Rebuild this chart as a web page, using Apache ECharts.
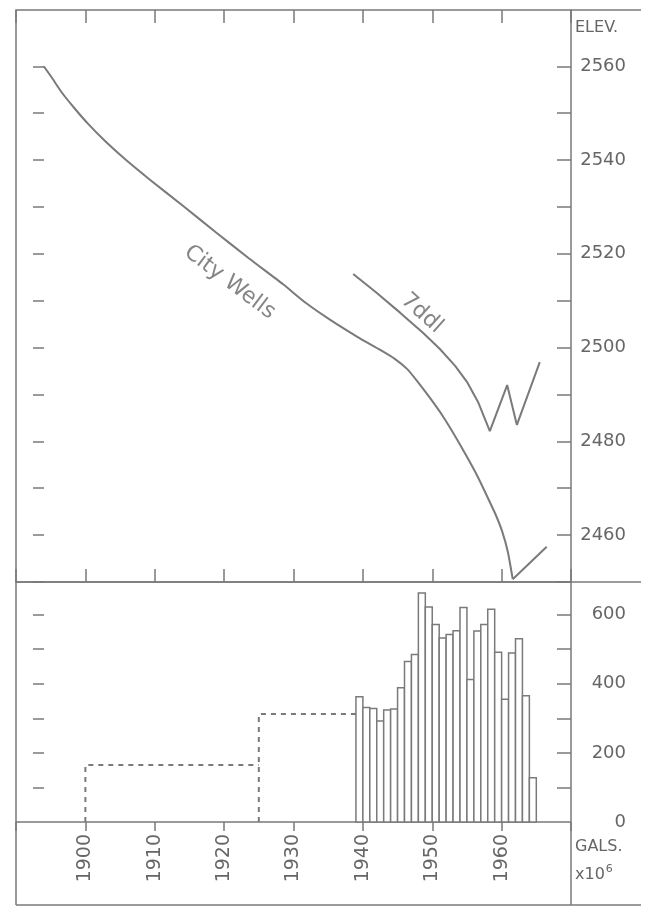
<!DOCTYPE html>
<html>
<head>
<meta charset="utf-8">
<script src="https://cdn.jsdelivr.net/npm/echarts@6/dist/echarts.min.js"></script>
<style>
  html, body { margin: 0; padding: 0; background: #fff; }
  #chart { width: 647px; height: 917px; }
</style>
</head>
<body>
<div id="chart"></div>
<script>
// axis ticks / labels
const yearTicks = [1900, 1910, 1920, 1930, 1940, 1950, 1960]
const elevTicks = [2450, 2460, 2470, 2480, 2490, 2500, 2510, 2520, 2530, 2540, 2550, 2560]
const elevLabels = [2460, 2480, 2500, 2520, 2540, 2560]
const galTicks = [100, 200, 300, 400, 500, 600]
const galLabels = [0, 200, 400, 600]

// water level, city wells
const cityWells = [
  [1894.0, 2560], [1895.2, 2557.5], [1896.6, 2554.4], [1898.4, 2551.1], [1900.4, 2547.7],
  [1902.8, 2544.1], [1905.7, 2540.2], [1909.3, 2535.8], [1914.1, 2530.2], [1918.8, 2524.6],
  [1923.6, 2519.0], [1928.5, 2513.5], [1931.8, 2509.5], [1935.3, 2505.9], [1939.2, 2502.3],
  [1942.5, 2499.5], [1944.6, 2497.6], [1946.4, 2495.4], [1947.8, 2492.9], [1949.7, 2489.2],
  [1951.6, 2485.2], [1953.3, 2481.1], [1955.0, 2476.7], [1956.5, 2472.6], [1957.9, 2468.3],
  [1959.1, 2464.5], [1960.1, 2460.7], [1960.9, 2456.4], [1961.6, 2450.6], [1966.5, 2457.5]
]
// water level, well 7ddl
const sevenDdl = [
  [1938.6, 2515.7], [1941.8, 2511.9], [1945.4, 2507.4], [1948.7, 2503.1], [1951.1, 2499.7],
  [1953.3, 2496.1], [1955.0, 2492.7], [1956.6, 2488.4], [1958.3, 2482.2], [1960.8, 2492.0],
  [1962.2, 2483.5], [1965.5, 2496.9]
]
const curveLabels = [
  { name: 'City Wells', value: [1920.8, 2513.9], angle: -37 },
  { name: '7ddl', value: [1948.5, 2507.3], angle: -42 }
]

// pumpage, gallons x 10^6
const pumpYears = [1939, 1940, 1941, 1942, 1943, 1944, 1945, 1946, 1947, 1948, 1949, 1950, 1951,
  1952, 1953, 1954, 1955, 1956, 1957, 1958, 1959, 1960, 1961, 1962, 1963, 1964]
const pumpGals = [362, 331, 328, 292, 324, 327, 388, 464, 484, 662, 622, 571, 532,
  542, 553, 620, 412, 552, 571, 615, 491, 355, 489, 530, 365, 128]
const earlyPumpA = [[1900, 0], [1900, 165], [1925, 165]]
const earlyPumpB = [[1925, 0], [1925, 312], [1939, 312]]

const ink = '#7a7a7a'
const txt = '#666'
const font = 'DejaVu Sans'

const myChart = echarts.init(document.getElementById('chart'), null, { renderer: 'canvas' })

// the city wells curve is smooth down to its low point, then a straight recovery
const lowIdx = cityWells.length - 2
const cityFall = cityWells.slice(0, lowIdx + 1)
const cityRise = cityWells.slice(lowIdx)

const yearAxis = function(grid, pos, inside, len) {
  return {
    type: 'value', gridIndex: grid, position: pos, min: 1890, max: 1970, interval: 10,
    axisLine: { show: false },
    axisTick: { show: true, inside: inside, length: len, lineStyle: { color: ink, width: 1.5 } },
    axisLabel: { show: false },
    splitLine: { show: false }
  }
}

const xBottom = yearAxis(1, 'bottom', false, 9)
xBottom.axisLabel = {
  show: true, rotate: 90, margin: 12, color: txt, fontSize: 19, fontFamily: font,
  formatter: function(v) { return yearTicks.indexOf(v) >= 0 ? String(v) : '' }
}

const plainLabel = function(v) { return String(v) }

const option = {
  backgroundColor: '#fff',
  animation: false,
  grid: [
    { left: 16, right: 76, top: 10, height: 572, show: true, borderColor: ink, borderWidth: 1.5 },
    { left: 16, right: 76, top: 582, height: 240, show: true, borderColor: ink, borderWidth: 1.5 }
  ],
  xAxis: [
    yearAxis(0, 'top', true, 13),
    yearAxis(0, 'bottom', true, 13),
    xBottom
  ],
  yAxis: [
    {
      type: 'value', gridIndex: 0, position: 'right', min: 2450, max: 2572,
      axisLine: { show: false },
      axisTick: { show: true, inside: true, length: 14, customValues: elevTicks, lineStyle: { color: ink, width: 1.5 } },
      axisLabel: { show: true, customValues: elevLabels, formatter: plainLabel, margin: 55, align: 'right', color: txt, fontSize: 18, fontFamily: font },
      splitLine: { show: false }
    },
    {
      type: 'value', gridIndex: 0, position: 'left', offset: -28, min: 2450, max: 2572,
      axisLine: { show: false },
      axisTick: { show: true, inside: false, length: 11, customValues: elevTicks, lineStyle: { color: ink, width: 1.5 } },
      axisLabel: { show: false },
      splitLine: { show: false }
    },
    {
      type: 'value', gridIndex: 1, position: 'right', min: 0, max: 694,
      axisLine: { show: false },
      axisTick: { show: true, inside: true, length: 14, customValues: galTicks, lineStyle: { color: ink, width: 1.5 } },
      axisLabel: { show: true, customValues: galLabels, formatter: plainLabel, margin: 55, align: 'right', color: txt, fontSize: 18, fontFamily: font },
      splitLine: { show: false }
    },
    {
      type: 'value', gridIndex: 1, position: 'left', offset: -28, min: 0, max: 694,
      axisLine: { show: false },
      axisTick: { show: true, inside: false, length: 11, customValues: galTicks, lineStyle: { color: ink, width: 1.5 } },
      axisLabel: { show: false },
      splitLine: { show: false }
    }
  ],
  graphic: [
    { type: 'line', shape: { x1: 571, y1: 10, x2: 641, y2: 10 }, style: { stroke: ink, lineWidth: 1.5 } },
    { type: 'line', shape: { x1: 571, y1: 582, x2: 641, y2: 582 }, style: { stroke: ink, lineWidth: 1.5 } },
    { type: 'line', shape: { x1: 16, y1: 822, x2: 16, y2: 905 }, style: { stroke: ink, lineWidth: 1.5 } },
    { type: 'line', shape: { x1: 571, y1: 822, x2: 571, y2: 905 }, style: { stroke: ink, lineWidth: 1.5 } },
    { type: 'line', shape: { x1: 16, y1: 905, x2: 641, y2: 905 }, style: { stroke: ink, lineWidth: 1.5 } },
    { type: 'text', left: 575, top: 20, style: { text: 'ELEV.', fill: txt, font: '16px "DejaVu Sans"' } },
    { type: 'text', left: 575, top: 839, style: { text: 'GALS.', fill: txt, font: '16px "DejaVu Sans"' } },
    {
      type: 'text', left: 575, top: 864,
      style: {
        text: '{a|x10}{b|6}', fill: txt,
        rich: {
          a: { fontSize: 16, fontFamily: font, fill: txt, verticalAlign: 'bottom' },
          b: { fontSize: 11, fontFamily: font, fill: txt, verticalAlign: 'top', padding: [0, 0, 8, 1] }
        }
      }
    }
  ],
  series: [
    {
      name: 'City Wells', type: 'line', xAxisIndex: 0, yAxisIndex: 0,
      data: cityFall, smooth: 0.2, symbol: 'none',
      lineStyle: { color: ink, width: 2 }
    },
    {
      type: 'line', xAxisIndex: 0, yAxisIndex: 0,
      data: cityRise, smooth: false, symbol: 'none',
      lineStyle: { color: ink, width: 2 }
    },
    {
      name: '7ddl', type: 'line', xAxisIndex: 0, yAxisIndex: 0,
      data: sevenDdl, smooth: false, symbol: 'none',
      lineStyle: { color: ink, width: 2 }
    },
    {
      type: 'scatter', xAxisIndex: 0, yAxisIndex: 0, symbolSize: 0,
      data: curveLabels.map(function(d) {
        return {
          name: d.name, value: d.value,
          label: { show: true, position: 'inside', rotate: d.angle, formatter: '{b}', color: txt, fontSize: 22, fontFamily: font }
        }
      })
    },
    {
      name: 'pumpage', type: 'custom', xAxisIndex: 2, yAxisIndex: 2,
      data: pumpYears.map(function(y, i) { return [y, pumpGals[i]] }),
      encode: { x: 0, y: 1 },
      renderItem: function(params, api) {
        const p0 = api.coord([api.value(0), 0])
        const p1 = api.coord([api.value(0) + 1, api.value(1)])
        return {
          type: 'rect',
          shape: { x: p0[0], y: p1[1], width: p1[0] - p0[0], height: p0[1] - p1[1] },
          style: { fill: '#fff', stroke: ink, lineWidth: 1.5 }
        }
      }
    },
    {
      type: 'line', xAxisIndex: 2, yAxisIndex: 2, data: earlyPumpA, symbol: 'none',
      lineStyle: { color: ink, width: 2, type: [5, 5] }
    },
    {
      type: 'line', xAxisIndex: 2, yAxisIndex: 2, data: earlyPumpB, symbol: 'none',
      lineStyle: { color: ink, width: 2, type: [5, 5] }
    }
  ]
}

option && myChart.setOption(option)
</script>
</body>
</html>
